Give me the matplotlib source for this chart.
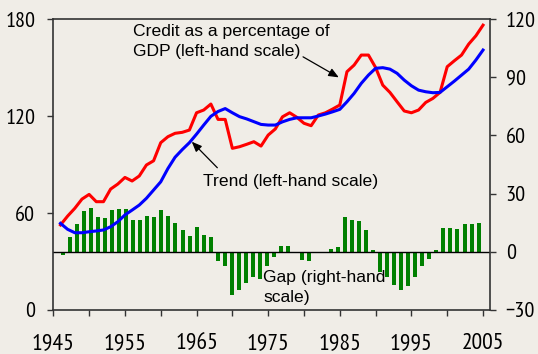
import numpy as np
import matplotlib
matplotlib.use("Agg")
import matplotlib.pyplot as plt
from matplotlib import font_manager
from matplotlib.ticker import MultipleLocator, FuncFormatter

years = np.arange(1946, 2006)

# credit to GDP ratio, per cent (left-hand scale)
credit = [52.6, 58.1, 62.9, 68.6, 71.5, 67.0, 67.0, 74.8, 77.9, 82.0,
          79.8, 82.9, 89.7, 92.3, 103.5, 107.2, 109.3, 109.9, 111.3, 122.0,
          123.7, 127.4, 117.9, 117.9, 100.0, 101.0, 102.5, 104.1, 101.4, 108.2,
          112.0, 119.5, 122.0, 119.2, 115.5, 114.0, 120.6, 122.0, 124.3, 126.8,
          147.4, 151.5, 157.7, 157.7, 150.0, 139.1, 134.6, 128.8, 123.1, 122.0,
          123.7, 128.4, 130.9, 134.6, 150.5, 154.2, 157.7, 164.5, 169.6, 176.2]

# smoothed trend (left-hand scale)
trend = [53.6, 49.9, 47.8, 47.8, 48.4, 48.9, 49.5, 51.5, 54.6, 58.8,
         61.8, 64.9, 69.1, 74.2, 79.3, 87.5, 94.5, 99.2, 103.5, 108.8,
         114.4, 119.8, 122.8, 124.6, 122.0, 119.6, 118.2, 116.5, 114.8, 114.4,
         114.4, 116.4, 117.9, 118.9, 118.9, 118.9, 120.0, 121.2, 122.6, 124.1,
         128.8, 134.0, 140.2, 145.3, 149.5, 149.9, 149.0, 146.4, 142.2, 138.7,
         136.0, 135.0, 134.4, 134.6, 138.1, 141.6, 145.3, 149.0, 154.6, 160.8]

# credit gap (right-hand scale)
gap = [-1.5, 7.4, 14.1, 20.8, 22.8, 17.7, 17.2, 21.8, 22.3, 22.3,
       16.6, 16.6, 18.7, 17.7, 21.3, 18.7, 15.1, 11.0, 7.9, 13.0,
       8.9, 7.4, -5.0, -7.1, -22.5, -19.9, -16.2, -13.2, -13.8, -7.1,
       -2.8, 3.2, 3.2, 0.0, -4.0, -5.0, 0.0, 0.0, 1.5, 2.7,
       17.7, 16.6, 16.1, 11.0, 0.7, -10.5, -13.1, -17.2, -19.8, -17.7,
       -13.2, -7.4, -3.8, 0.7, 12.5, 12.5, 12.0, 14.1, 14.1, 15.1]

BG = "#f0ede7"
SPINE = "#333333"


def narrow_font():
    # pick a narrow sans face for the tick labels if one is installed
    fonts = font_manager.fontManager.ttflist
    plain = [f for f in fonts if f.style == "normal" and f.weight in (400, "normal", "regular")]
    for key in ("Narrow", "Condensed"):
        hits = [f for f in plain if key in f.name and "Sans" in f.name]
        if hits:
            return font_manager.FontProperties(fname=hits[0].fname)
    hits = [f for f in plain if f.stretch in ("condensed", "semi-condensed")
            and "Sans" in f.name and "Mono" not in f.name]
    if hits:
        hits.sort(key=lambda f: (f.stretch != "semi-condensed", f.name != "DejaVu Sans"))
        return font_manager.FontProperties(fname=hits[0].fname)
    return font_manager.FontProperties(family="Liberation Sans")


plt.rcParams["font.family"] = ["Liberation Sans", "DejaVu Sans"]
tick_fp = narrow_font()

fig = plt.figure(figsize=(5.38, 3.54), dpi=100, facecolor=BG)
rect = [0.0991, 0.1243, 0.8111, 0.822]

# bars live on their own axes so they can use the right-hand scale
axb = fig.add_axes(rect, facecolor=BG)
axb.bar(np.arange(len(gap)), gap, width=0.57, color="#008000", zorder=2)
axb.axhline(0, color="black", lw=1.0, zorder=3)
axb.set_xlim(-1.33, 60.57)
axb.set_ylim(-30, 120)
axb.set_yticks(np.arange(-30, 121, 30))
axb.yaxis.tick_right()
axb.set_xticks([])
axb.tick_params(axis="y", direction="out", length=4.5, width=1, color=SPINE, pad=7)
for lab in axb.get_yticklabels():
    lab.set_fontproperties(tick_fp)
    lab.set_fontsize(16)
for s in axb.spines.values():
    s.set_visible(False)

ax = fig.add_axes(rect, facecolor="none")
ax.plot(years, credit, color="#ff0000", lw=2.2, zorder=4)
ax.plot(years, trend, color="#0000ff", lw=2.2, zorder=5)
ax.set_xlim(1945, 2005.93)
ax.set_ylim(0, 180)
ax.set_yticks([0, 60, 120, 180])
ax.xaxis.set_major_locator(MultipleLocator(5))
ax.xaxis.set_major_formatter(
    FuncFormatter(lambda v, p: f"{int(round(v))}" if int(round(v - 1945)) % 10 == 0 else ""))
ax.tick_params(axis="y", direction="out", length=4.5, width=1, color=SPINE, pad=8.5)
ax.tick_params(axis="x", direction="out", length=4.5, width=1, color=SPINE, pad=12)
for lab in ax.get_yticklabels():
    lab.set_fontproperties(tick_fp)
    lab.set_fontsize(16)
for lab in ax.get_xticklabels():
    lab.set_fontproperties(tick_fp)
    lab.set_fontsize(17)
for s in ax.spines.values():
    s.set_color(SPINE)
    s.set_linewidth(1.2)

txt = dict(fontsize=12.6, color="black", ha="left", va="top")
ax.text(1956.1, 177.2, "Credit as a percentage of\nGDP (left-hand scale)",
        linespacing=1.48, **txt)
ax.text(1965.95, 84.0, "Trend (left-hand scale)", **txt)
ax.text(1974.3, 24.6, "Gap (right-hand\nscale)", linespacing=1.38, **txt)

arrow = dict(arrowstyle="-|>,head_length=0.6,head_width=0.25", color="black",
             lw=0.9, shrinkA=0, shrinkB=0)
ax.annotate("", xy=(1984.86, 143.9), xytext=(1979.87, 156.6), arrowprops=arrow)
ax.annotate("", xy=(1964.33, 104.1), xytext=(1967.9, 88.0), arrowprops=arrow)

fig.savefig("out.png", dpi=100, facecolor=BG)
